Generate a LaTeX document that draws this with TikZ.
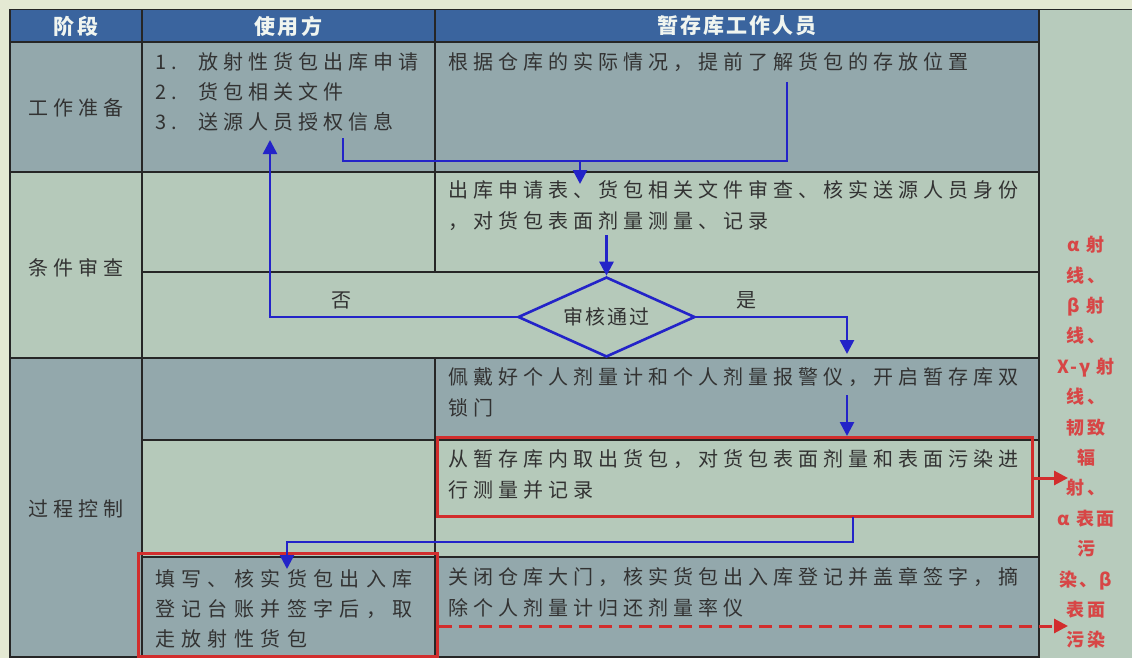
\documentclass[tikz,border=0pt]{standalone}
\usepackage{fontspec}
\usetikzlibrary{arrows.meta,shapes.geometric}
\setmainfont{Noto Sans CJK SC}
\newfontfamily\bodyf[LetterSpace=25]{Noto Sans CJK SC}
\newfontfamily\widef[LetterSpace=32]{Noto Sans CJK SC}
\newfontfamily\headf[LetterSpace=10]{Noto Sans CJK SC}
\newfontfamily\redf[LetterSpace=12]{Noto Sans CJK SC}
\definecolor{cream}{RGB}{228,233,211}
\definecolor{hdr}{RGB}{58,100,158}
\definecolor{gb}{RGB}{147,168,172}
\definecolor{gr}{RGB}{181,201,186}
\definecolor{gr2}{RGB}{183,203,188}
\definecolor{txt}{RGB}{50,50,50}
\definecolor{bl}{RGB}{35,35,200}
\definecolor{rd}{RGB}{210,45,45}
\definecolor{rdt}{RGB}{215,70,70}
\definecolor{hdt}{RGB}{240,245,240}
\tikzset{
  gridline/.style={line width=1.8pt, draw=black!85},
  flow/.style={draw=bl, line width=2.6pt, -{Triangle[length=14pt,width=14pt]}},
  flowline/.style={draw=bl, line width=2.6pt},
  redbox/.style={draw=rd, line width=3pt, inner sep=0pt},
  redarrow/.style={draw=rd, line width=3pt, -{Triangle[length=14pt,width=14pt]}},
  header/.style={font=\headf\bfseries\fontsize{21}{21}\selectfont, text=hdt, inner sep=0pt},
  lab/.style={font=\bodyf\fontsize{20}{20}\selectfont, text=txt, inner sep=0pt},
  body/.style={font=\bodyf\fontsize{20}{31}\selectfont, text=txt, inner sep=0pt, align=left, anchor=north west},
  bodywide/.style={font=\widef\fontsize{20}{30}\selectfont, text=txt, inner sep=0pt, align=left, anchor=north west},
  redtext/.style={font=\redf\bfseries\fontsize{18}{30.4}\selectfont, text=rdt, inner sep=0pt, align=center, anchor=north},
  decision/.style={diamond, aspect=2.2, draw=bl, line width=2.6pt, minimum width=177pt, minimum height=80pt, inner sep=0pt, font=\headf\fontsize{20}{20}\selectfont, text=txt},
  flowlabel/.style={font=\bodyf\fontsize{20}{20}\selectfont, text=txt, inner sep=0pt}
}
\begin{document}
\begin{tikzpicture}[x=1pt,y=-1pt]
\useasboundingbox (0,0) rectangle (1132,658);
% backgrounds
\fill[cream] (0,0) rectangle (1132,658);
\fill[gr2] (1039,9.5) rectangle (1132,658);
\fill[hdr] (10,9.5) rectangle (1039,42);
\fill[gb] (10,42) rectangle (1039,172);
\fill[gr] (10,172) rectangle (1039,358);
\fill[gb] (10,358) rectangle (142,658);
\fill[gb] (142,358) rectangle (1039,440);
\fill[gr] (142,440) rectangle (1039,557);
\fill[gb] (142,557) rectangle (1039,658);
% grid
\draw[gridline] (10,9.5) -- (1132,9.5);
\draw[gridline] (10,9.5) -- (10,658);
\draw[gridline] (142,9.5) -- (142,658);
\draw[gridline] (435,9.5) -- (435,272);
\draw[gridline] (435,358) -- (435,658);
\draw[gridline] (1039,9.5) -- (1039,658);
\draw[gridline] (10,42) -- (1039,42);
\draw[gridline] (10,172) -- (1039,172);
\draw[gridline] (142,272) -- (1039,272);
\draw[gridline] (10,358) -- (1039,358);
\draw[gridline] (142,440) -- (1039,440);
\draw[gridline] (142,557) -- (1039,557);
\draw[gridline] (10,657) -- (1039,657);
% headers
\node[header] (h1) at (76,26) {阶段};
\node[header] (h2) at (288.5,26) {使用方};
\node[header] (h3) at (737,26) {暂存库工作人员};
% phase labels
\node[lab] (p1) at (76,108) {工作准备};
\node[lab] (p2) at (76,268) {条件审查};
\node[lab] (p3) at (76,509) {过程控制};
% cells
\node[body, font=\bodyf\fontsize{20}{30}\selectfont] (u1) at (155,52) {\makebox[43pt][l]{1.}放射性货包出库申请\\\makebox[43pt][l]{2.}货包相关文件\\\makebox[43pt][l]{3.}送源人员授权信息};
\node[body] (w1) at (448,52) {根据仓库的实际情况，提前了解货包的存放位置};
\node[body] (w2) at (448,180) {出库申请表、货包相关文件审查、核实送源人员身份\\，对货包表面剂量测量、记录};
\node[decision] (dia) at (606.5,317) {审核通过};
\node[flowlabel] (no) at (341,300) {否};
\node[flowlabel] (yes) at (746,300) {是};
\node[body] (w3) at (448,367) {佩戴好个人剂量计和个人剂量报警仪，开启暂存库双\\锁门};
\node[body] (w4) at (448,449) {从暂存库内取出货包，对货包表面剂量和表面污染进\\行测量并记录};
\node[body] (w5) at (448,567) {关闭仓库大门，核实货包出入库登记并盖章签字，摘\\除个人剂量计归还剂量率仪};
\node[bodywide] (u5) at (155,569) {填写、核实货包出入库\\登记台账并签字后，取\\走放射性货包};
\node[redtext] (risk) at (1086,236) {α 射\\线、\\β 射\\线、\\X-γ 射\\线、\\韧致\\辐\\射、\\α 表面\\污\\染、β\\表面\\污染};
% red boxes
\node[redbox, minimum width=595pt, minimum height=79pt] (rb1) at (734.5,476.5) {};
\node[redbox, minimum width=299pt, minimum height=103pt] (rb2) at (287.5,605) {};
% flow connectors
\coordinate (a1s) at (787,82);
\coordinate (a1b) at (343,161);
\coordinate (a1u) at (343,138);
\coordinate (a1j) at (580,161);
\coordinate (a1t) at (580,184);
\draw[flowline] (a1s) |- (a1b) -- (a1u);
\draw[flow] (a1j) -- (a1t);
\coordinate (a2s) at (606.5,235);
\draw[flow] (a2s) -- (dia.north);
\coordinate (ant) at (270,140);
\draw[flow] (dia.west) -| (ant);
\coordinate (ayt) at (847,354);
\draw[flow] (dia.east) -| (ayt);
\coordinate (a4s) at (847,395);
\coordinate (a4t) at (847,436);
\draw[flow] (a4s) -- (a4t);
\coordinate (a5s) at (853,517);
\coordinate (a5m) at (287,542);
\coordinate (a5t) at (287,569);
\draw[flow] (a5s) |- (a5m) -- (a5t);
% red arrows
\coordinate (r1t) at (1068,478);
\draw[redarrow] (rb1.east |- r1t) -- (r1t);
\coordinate (r2t) at (1068,626);
\draw[redarrow, dash pattern=on 13pt off 7pt] (rb2.east |- r2t) -- (r2t);
\end{tikzpicture}
\end{document}
